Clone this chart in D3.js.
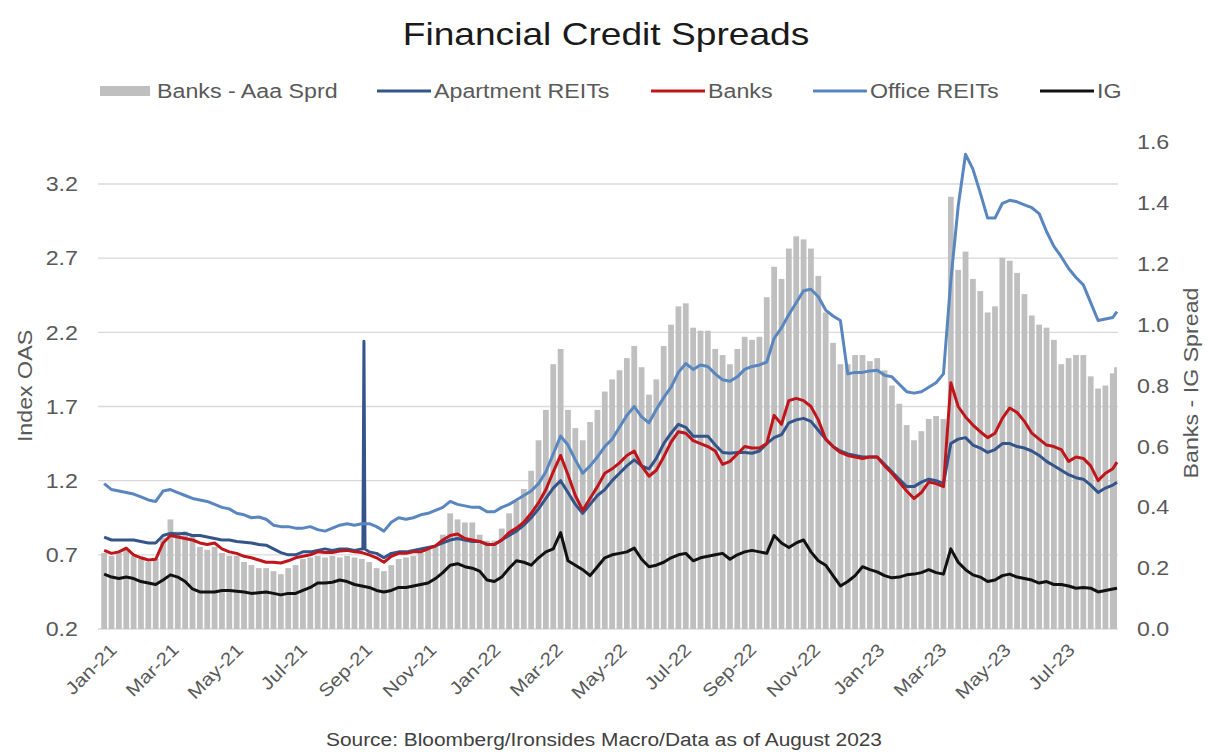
<!DOCTYPE html>
<html><head><meta charset="utf-8">
<script src="https://cdn.jsdelivr.net/npm/d3@7"></script>
<style>
html,body{margin:0;padding:0;background:#fff;}
text{font-family:"Liberation Sans",Arial,sans-serif;}
</style></head>
<body><svg id="chart" width="1208" height="753"></svg>
<script>
// ---------- data (weekly readings, Mondays from 4 Jan 2021, last point 25 Aug 2023) ----------
const weekDates = d3.timeMonday.range(new Date(2021,0,4), new Date(2023,7,22)).concat([new Date(2023,7,25)]);

const officeREITs = [
1.18,1.14,1.13,1.12,1.11,1.09,1.07,1.06,1.13,1.14,
1.12,1.10,1.08,1.07,1.06,1.04,1.02,1.01,0.98,0.97,
0.95,0.955,0.94,0.90,0.89,0.89,0.88,0.88,0.89,0.87,
0.86,0.88,0.90,0.91,0.90,0.91,0.91,0.89,0.86,0.92,
0.95,0.94,0.95,0.97,0.98,1.00,1.02,1.06,1.04,1.03,
1.02,1.02,0.99,0.99,1.02,1.04,1.07,1.10,1.13,1.18,
1.26,1.38,1.50,1.44,1.34,1.25,1.30,1.36,1.43,1.48,
1.56,1.64,1.70,1.63,1.59,1.68,1.76,1.83,1.93,1.99,
1.95,1.98,1.97,1.92,1.88,1.87,1.90,1.95,1.97,1.98,
2.00,2.16,2.23,2.32,2.40,2.48,2.49,2.44,2.35,2.31,
2.28,1.92,1.93,1.93,1.94,1.945,1.91,1.90,1.85,1.80,
1.79,1.80,1.83,1.86,1.92,2.55,3.05,3.40,3.30,3.14,
2.97,2.97,3.07,3.09,3.08,3.06,3.04,3.00,2.88,2.78,
2.71,2.63,2.57,2.52,2.40,2.28,2.29,2.30,2.34];

const apartmentREITs = [
0.82,0.80,0.80,0.80,0.80,0.79,0.78,0.78,0.83,0.845,
0.84,0.845,0.83,0.83,0.82,0.81,0.80,0.80,0.79,0.785,
0.78,0.77,0.765,0.74,0.715,0.70,0.70,0.72,0.72,0.73,
0.74,0.73,0.74,0.74,0.73,0.74,0.72,0.71,0.68,0.71,
0.72,0.72,0.73,0.74,0.75,0.76,0.78,0.80,0.81,0.80,
0.79,0.79,0.77,0.77,0.80,0.83,0.86,0.90,0.95,1.01,
1.08,1.15,1.20,1.12,1.04,0.98,1.04,1.10,1.14,1.20,
1.25,1.30,1.34,1.30,1.28,1.35,1.45,1.52,1.58,1.56,
1.50,1.50,1.50,1.44,1.39,1.385,1.39,1.39,1.385,1.40,
1.45,1.49,1.51,1.59,1.61,1.62,1.60,1.54,1.48,1.43,
1.40,1.38,1.37,1.36,1.36,1.36,1.31,1.26,1.21,1.16,
1.16,1.19,1.21,1.20,1.18,1.45,1.48,1.49,1.44,1.42,
1.39,1.41,1.45,1.45,1.43,1.42,1.40,1.37,1.33,1.30,
1.27,1.24,1.22,1.21,1.17,1.12,1.15,1.17,1.19];
// one-day print error in the Apartment REITs index (early Sep 2021)
const apartmentSpikeDates = [new Date(2021,8,7), new Date(2021,8,8), new Date(2021,8,9)];
const apartmentSpikeValues = [0.74, 2.14, 0.74];

const banks = [
0.73,0.71,0.72,0.745,0.70,0.68,0.665,0.67,0.78,0.83,
0.82,0.81,0.80,0.78,0.77,0.78,0.74,0.72,0.71,0.69,
0.68,0.665,0.65,0.65,0.645,0.66,0.68,0.69,0.70,0.72,
0.715,0.715,0.725,0.73,0.72,0.715,0.70,0.68,0.65,0.69,
0.71,0.71,0.72,0.72,0.74,0.76,0.80,0.83,0.84,0.81,
0.80,0.79,0.77,0.77,0.80,0.85,0.88,0.92,0.98,1.05,
1.14,1.26,1.37,1.24,1.10,1.00,1.08,1.16,1.25,1.28,
1.32,1.37,1.40,1.30,1.23,1.27,1.36,1.46,1.53,1.52,
1.47,1.45,1.43,1.40,1.31,1.33,1.38,1.43,1.42,1.42,
1.45,1.64,1.58,1.74,1.755,1.74,1.70,1.61,1.48,1.43,
1.39,1.37,1.36,1.35,1.36,1.36,1.30,1.25,1.19,1.13,
1.08,1.12,1.19,1.18,1.16,1.86,1.70,1.63,1.575,1.53,
1.49,1.52,1.62,1.69,1.66,1.60,1.52,1.48,1.44,1.43,
1.41,1.33,1.36,1.35,1.30,1.20,1.25,1.28,1.325];

const ig = [
0.57,0.55,0.54,0.55,0.54,0.52,0.51,0.50,0.53,0.565,
0.55,0.52,0.47,0.45,0.45,0.45,0.46,0.46,0.455,0.45,
0.44,0.445,0.45,0.44,0.43,0.44,0.44,0.46,0.48,0.51,
0.51,0.515,0.53,0.52,0.50,0.49,0.48,0.46,0.45,0.46,
0.48,0.48,0.49,0.50,0.51,0.54,0.58,0.63,0.64,0.62,
0.61,0.59,0.53,0.52,0.55,0.61,0.66,0.65,0.63,0.68,
0.72,0.74,0.85,0.66,0.63,0.60,0.56,0.62,0.68,0.70,
0.71,0.72,0.745,0.67,0.62,0.63,0.65,0.68,0.70,0.71,
0.66,0.68,0.69,0.70,0.71,0.67,0.70,0.72,0.73,0.72,
0.71,0.83,0.78,0.75,0.78,0.80,0.72,0.66,0.63,0.56,
0.49,0.52,0.56,0.62,0.60,0.585,0.56,0.545,0.55,0.565,
0.57,0.58,0.60,0.58,0.57,0.74,0.65,0.60,0.565,0.55,
0.52,0.53,0.56,0.57,0.55,0.54,0.53,0.51,0.52,0.50,
0.50,0.49,0.475,0.48,0.475,0.45,0.46,0.47,0.475];

const banksAaaSpread = [
0.25,0.24,0.25,0.26,0.24,0.23,0.22,0.23,0.30,0.36,
0.32,0.32,0.31,0.27,0.26,0.27,0.25,0.24,0.24,0.22,
0.21,0.20,0.20,0.19,0.18,0.20,0.21,0.23,0.235,0.24,
0.235,0.24,0.235,0.24,0.235,0.23,0.22,0.20,0.19,0.21,
0.23,0.235,0.24,0.25,0.26,0.27,0.31,0.38,0.36,0.35,
0.35,0.31,0.29,0.29,0.33,0.38,0.42,0.46,0.52,0.62,
0.72,0.87,0.92,0.72,0.66,0.62,0.68,0.72,0.78,0.82,
0.85,0.89,0.93,0.86,0.77,0.82,0.93,1.00,1.06,1.07,
0.99,0.98,0.98,0.92,0.90,0.87,0.92,0.96,0.95,0.96,
1.09,1.19,1.15,1.25,1.29,1.28,1.25,1.16,1.04,0.94,
0.87,0.87,0.90,0.90,0.88,0.89,0.85,0.80,0.74,0.67,
0.62,0.65,0.69,0.70,0.69,1.42,1.18,1.24,1.15,1.11,
1.04,1.06,1.22,1.21,1.17,1.10,1.03,1.00,0.99,0.95,
0.87,0.89,0.90,0.90,0.83,0.79,0.80,0.84,0.86];

const leftTicks = [0.2,0.7,1.2,1.7,2.2,2.7,3.2];
const rightTicks = [0,0.2,0.4,0.6,0.8,1.0,1.2,1.4,1.6];
const monthTicks = d3.timeMonth.every(2).range(new Date(2021,0,1), new Date(2023,7,2));
const legendItems = [
  {name:"Banks - Aaa Sprd", type:"bar"},
  {name:"Apartment REITs", type:"line", key:"apt"},
  {name:"Banks", type:"line", key:"banks"},
  {name:"Office REITs", type:"line", key:"office"},
  {name:"IG", type:"line", key:"ig"}];

// ---------- styles ----------
const colors = {bar:"#bfbfbf", apt:"#34548a", banks:"#c0161b", office:"#5a86c0", ig:"#111111"};
const STRETCH = 1.16;
function stretch(sel){ sel.each(function(){ const w=this.getComputedTextLength(); this.setAttribute("textLength", (w*STRETCH).toFixed(1)); this.setAttribute("lengthAdjust","spacingAndGlyphs"); }); }

const svg = d3.select("#chart");
const L=101, R=1117, B=629;
const x = d3.scaleTime().domain([new Date(2021,0,1), new Date(2023,7,25)]).range([L, R]);
const yL = d3.scaleLinear().domain([0.2, 3.2]).range([B, 184]);
const yR = d3.scaleLinear().domain([0, 1.6]).range([B, 142]);

// gridlines
svg.append("g").selectAll("line").data(leftTicks).join("line")
  .attr("x1", 98).attr("x2", 1118).attr("y1", d=>yL(d)).attr("y2", d=>yL(d))
  .attr("stroke", "#d9d9d9").attr("stroke-width", 1.3);

// bars
const barW = (x(weekDates[1]) - x(weekDates[0])) - 1.6;
svg.append("g").selectAll("rect").data(weekDates).join("rect")
  .attr("x", (d,i)=> x(d) - barW/2)
  .attr("width", (d,i)=> i < weekDates.length-1 ? barW : Math.max(1, R - (x(d) - barW/2)))
  .attr("y", (d,i)=> yR(banksAaaSpread[i]))
  .attr("height", (d,i)=> B - yR(banksAaaSpread[i]))
  .attr("fill", colors.bar);

// lines
function series(vals){ return weekDates.map((d,i)=>({d, v: vals[i]})); }
const aptData = series(apartmentREITs).concat(apartmentSpikeDates.map((d,i)=>({d, v: apartmentSpikeValues[i]})))
  .sort((a,b)=>a.d-b.d);
const line = d3.line().x(p=>x(p.d)).y(p=>yL(p.v));
const lineDefs = [
  {data: aptData, c: colors.apt},
  {data: series(banks), c: colors.banks},
  {data: series(officeREITs), c: colors.office},
  {data: series(ig), c: colors.ig}];
svg.append("g").selectAll("path").data(lineDefs).join("path")
  .attr("d", s=>line(s.data)).attr("fill","none").attr("stroke", s=>s.c)
  .attr("stroke-width", 3).attr("stroke-linejoin","round");

// left axis labels
svg.append("g").selectAll("text").data(leftTicks).join("text")
  .attr("x", 78).attr("y", d=>yL(d)).attr("dy","0.36em").attr("text-anchor","end")
  .attr("font-size", 20).attr("fill","#595959").text(d=>d3.format(".1f")(d)).call(stretch);
// right axis labels
svg.append("g").selectAll("text").data(rightTicks).join("text")
  .attr("x", 1137).attr("y", d=>yR(d)).attr("dy","0.36em").attr("text-anchor","start")
  .attr("font-size", 20).attr("fill","#595959").text(d=>d3.format(".1f")(d)).call(stretch);

// x axis labels
const fmt = d3.timeFormat("%b-%y");
svg.append("g").selectAll("text").data(monthTicks).join("text")
  .attr("transform", d=>`translate(${x(d)+8},${642}) rotate(-45)`)
  .attr("text-anchor","end").attr("dy","0.7em")
  .attr("font-size", 18).attr("fill","#595959").text(d=>fmt(d)).call(stretch);

// axis titles
svg.append("text").attr("transform","translate(32,386) rotate(-90)").attr("text-anchor","middle")
  .attr("font-size", 20).attr("fill","#595959").text("Index OAS").call(stretch);
svg.append("text").attr("transform","translate(1198,383) rotate(-90)").attr("text-anchor","middle")
  .attr("font-size", 20).attr("fill","#595959").text("Banks - IG Spread").call(stretch);

// title
svg.append("text").attr("x", 606).attr("y", 45).attr("text-anchor","middle")
  .attr("font-size", 32).attr("fill","#1a1a1a").text("Financial Credit Spreads").call(stretch);

// legend
const legendX = [100, 377, 651, 813, 1040];
const lg = svg.append("g").selectAll("g").data(legendItems).join("g")
  .attr("transform", (d,i)=>`translate(${legendX[i]},91)`);
lg.filter(d=>d.type==="bar").append("rect").attr("x",0).attr("y",-5).attr("width",50).attr("height",10).attr("fill",colors.bar);
lg.filter(d=>d.type==="line").append("line").attr("x1",0).attr("x2",54).attr("y1",0).attr("y2",0)
  .attr("stroke", d=>colors[d.key]).attr("stroke-width",3);
lg.append("text").attr("x", d=>d.type==="bar"?57:57).attr("y",0).attr("dy","0.36em")
  .attr("font-size", 20).attr("fill","#595959").text(d=>d.name).call(stretch);

// source
svg.append("text").attr("x", 604).attr("y", 746).attr("text-anchor","middle")
  .attr("font-size", 18).attr("fill","#404040").text("Source: Bloomberg/Ironsides Macro/Data as of August 2023").call(stretch);
</script></body></html>
